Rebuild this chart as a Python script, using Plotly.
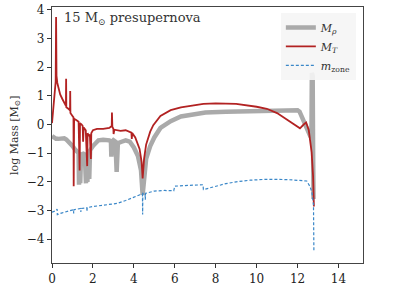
import plotly.graph_objects as go

# M_T (red)
mt_x = [0.0, 0.05, 0.1, 0.15, 0.18, 0.2, 0.22, 0.26, 0.32, 0.4, 0.5, 0.6, 0.68, 0.69, 0.7, 0.8, 0.88, 0.89, 0.9,
        1.0, 1.05, 1.06, 1.08, 1.2, 1.3, 1.35, 1.37, 1.45, 1.5, 1.52, 1.55, 1.65, 1.72, 1.74, 1.8, 1.85, 1.9, 1.92,
        2.0, 2.2, 2.5, 2.8, 2.92, 2.93, 2.95, 3.0, 3.01, 3.05, 3.2, 3.35, 3.6, 3.88, 3.9, 3.92, 4.07, 4.28, 4.38,
        4.43, 4.5, 4.6, 4.8, 4.95, 5.3, 5.8, 6.3, 7.0, 7.4, 8.0, 9.0, 10.0, 10.5, 11.0, 11.3, 11.6, 12.0, 12.12,
        12.3, 12.42, 12.55, 12.69, 12.76, 12.8]
mt_y = [0.05, 0.5, 0.85, 1.2, 1.5, 3.75, 1.7, 1.45, 1.25, 1.05, 0.9, 0.75, 0.65, 1.6, 0.6, 0.55, 0.5, 1.17, 0.4,
        0.3, 0.25, -2.15, 0.2, 0.15, 0.1, -1.6, 0.05, 0.0, -0.05, -0.6, -0.1, -0.2, -1.45, -0.3, -0.4, -0.35, -1.2, -0.3,
        -0.2, -0.15, -0.15, -0.12, -0.05, 0.42, -0.08, -0.15, -0.33, -0.18, -0.2, -0.22, -0.2, -0.28, -0.5, -0.3, -0.45, -0.85, -1.3,
        -1.88, -1.2, -0.7, -0.25, -0.02, 0.3, 0.5, 0.6, 0.69, 0.72, 0.74, 0.72, 0.62, 0.55, 0.4, 0.25, 0.1, -0.1, -0.13,
        0.0, 0.07, -0.2, -0.97, -1.8, -2.86]

# M_rho (grey)
mr_x = [0.0, 0.1, 0.2, 0.3, 0.46, 0.6, 0.7, 0.85, 1.0, 1.1, 1.25, 1.3, 1.32, 1.35, 1.38, 1.42, 1.5, 1.6, 1.66, 1.7,
        1.73, 1.76, 1.82, 1.86, 2.0, 2.27, 2.5, 2.8, 2.88, 2.9, 2.93, 3.0, 3.1, 3.16, 3.22, 3.4, 3.6, 3.8, 4.0,
        4.2, 4.35, 4.43, 4.5, 4.6, 4.8, 5.0, 5.3, 5.8, 6.3, 7.0, 7.5, 8.5, 10.0, 11.0, 11.8, 12.0, 12.1, 12.3,
        12.5, 12.62, 12.68, 12.7, 12.74, 12.76, 12.78]
mr_y = [-0.4, -0.45, -0.5, -0.5, -0.47, -0.48, -0.52, -0.62, -0.75, -0.85, -0.95, -1.0, -2.1, -1.0, -2.05, -1.0,
        -1.05, -1.0, -2.05, -1.0, -2.0, -1.0, -1.9, -0.9, -0.75, -0.55, -0.53, -0.55, -0.6, -1.12, -0.6, -0.55, -0.6,
        -1.65, -0.65, -0.6, -0.55, -0.6, -0.8, -1.1, -1.6, -2.45, -1.7, -1.2, -0.75, -0.45, -0.12, 0.12, 0.28, 0.38,
        0.42, 0.45, 0.47, 0.47, 0.47, 0.5, 0.45, 0.1, -0.2, -0.4, -0.45, 1.8, 1.7, -0.8, -2.6]

# m_zone (blue dashed)
mz_x = [0.0, 0.2, 0.25, 0.26, 0.5, 0.8, 1.05, 1.06, 1.07, 1.4, 1.41, 1.42, 1.7, 1.71, 1.72, 2.0, 2.5, 3.0, 3.2,
        3.6, 4.0, 4.3, 4.42, 4.43, 4.44, 4.55, 4.56, 4.57, 5.0, 5.5, 5.95, 6.0, 6.5, 7.0, 7.38, 7.4, 8.0, 8.5, 9.0,
        9.7, 10.5, 11.5, 12.45, 12.6, 12.7, 12.78, 12.8]
mz_y = [-3.06, -3.0, -2.95, -3.14, -3.08, -3.02, -2.97, -3.1, -2.97, -2.93, -3.05, -2.93, -2.9, -3.03, -2.9, -2.86,
        -2.82, -2.78, -2.75, -2.65, -2.52, -2.45, -2.42, -3.14, -2.4, -2.42, -2.62, -2.4, -2.32, -2.3, -2.31, -2.15,
        -2.13, -2.1, -2.1, -2.27, -2.15, -2.06, -2.0, -1.94, -1.91, -1.92, -1.97, -2.15, -2.35, -2.8, -4.41]

x_ticks = [0, 2, 4, 6, 8, 10, 12, 14]
y_ticks = [-4, -3, -2, -1, 0, 1, 2, 3, 4]

FONT = "DejaVu Serif"

fig = go.Figure()
fig.add_trace(go.Scatter(x=mr_x, y=mr_y, mode="lines", name="<i>M</i><sub><i>ρ</i></sub>",
                         line=dict(color="#aaaaaa", width=4.5)))
fig.add_trace(go.Scatter(x=mt_x, y=mt_y, mode="lines", name="<i>M</i><sub><i>T</i></sub>",
                         line=dict(color="#b22222", width=1.8)))
fig.add_trace(go.Scatter(x=mz_x, y=mz_y, mode="lines", name="<i>m</i><sub>zone</sub>",
                         line=dict(color="#3a87c8", width=1.2, dash="3px,2px")))

fig.update_layout(
    width=399, height=299,
    margin=dict(l=52, r=36, t=3, b=36),
    paper_bgcolor="white", plot_bgcolor="white",
    font=dict(family=FONT, size=12, color="#222"),
    showlegend=True,
    legend=dict(x=0.977, y=0.977, xanchor="right", yanchor="top",
                bgcolor="rgba(245,245,245,0.9)", borderwidth=0,
                font=dict(family=FONT, size=11, color="#333"),
                itemwidth=30, tracegroupgap=0),
    xaxis=dict(range=[0, 15.2], tickvals=x_ticks, ticks="outside", ticklen=4, tickcolor="#333",
               showgrid=False, zeroline=False, showline=True, linecolor="#444", linewidth=1.2, mirror=True,
               tickfont=dict(family=FONT, size=12), ticklabeloverflow="allow"),
    yaxis=dict(range=[-4.83, 4.1], tickvals=y_ticks, ticks="outside", ticklen=4, tickcolor="#333",
               showgrid=False, zeroline=False, showline=True, linecolor="#444", linewidth=1.2, mirror=True,
               tickfont=dict(family=FONT, size=12), ticklabeloverflow="allow"),
    annotations=[
        dict(text="15 M<sub>⊙</sub> presupernova", xref="paper", yref="paper", x=0.032, y=0.954,
             xanchor="left", yanchor="middle", showarrow=False,
             font=dict(family=FONT, size=13, color="#333")),
        dict(text="log Mass [M<sub>⊙</sub>]", xref="paper", yref="paper", x=-0.119, y=0.5,
             xanchor="center", yanchor="middle", textangle=-90, showarrow=False,
             font=dict(family=FONT, size=11, color="#333")),
    ],
)

fig.write_html("out.html", config={"displayModeBar": False},
               post_script="document.body.style.margin='0px';")
